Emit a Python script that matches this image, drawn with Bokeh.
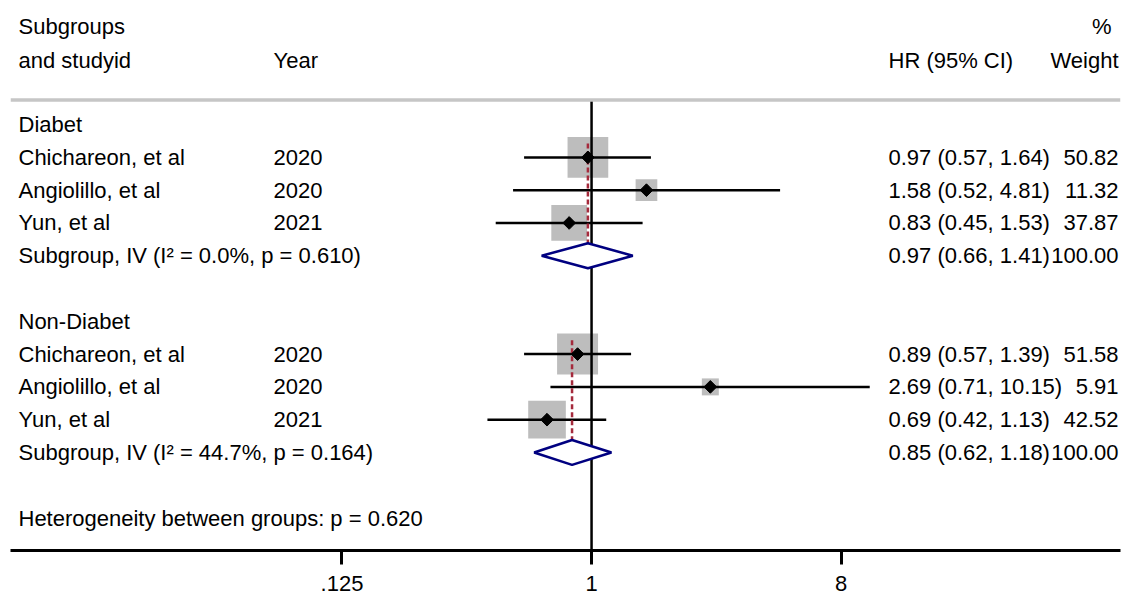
import numpy as np
from bokeh.plotting import figure
from bokeh.models import Range1d, LabelSet, ColumnDataSource, FixedTicker, Span
from bokeh.core.properties import value
from bokeh.embed import file_html
from bokeh.resources import INLINE

# ---------------- data ----------------
groups = ["Diabet", "Non-Diabet"]
studies = ["Chichareon, et al", "Angiolillo, et al", "Yun, et al"]
years = ["2020", "2020", "2021"]
hr_diab = [0.97, 1.58, 0.83]
lo_diab = [0.57, 0.52, 0.45]
hi_diab = [1.64, 4.81, 1.53]
w_diab = [50.82, 11.32, 37.87]
hr_non = [0.89, 2.69, 0.69]
lo_non = [0.57, 0.71, 0.42]
hi_non = [1.39, 10.15, 1.13]
w_non = [51.58, 5.91, 42.52]
pooled_hr = [0.97, 0.85]
pooled_lo = [0.66, 0.62]
pooled_hi = [1.41, 1.18]
pooled_w = [100.00, 100.00]
pooled_label = ["Subgroup, IV (I\u00b2 = 0.0%, p = 0.610)",
                "Subgroup, IV (I\u00b2 = 44.7%, p = 0.164)"]
het_label = "Heterogeneity between groups: p = 0.620"
header1 = ["Subgroups", "%"]
header2 = ["and studyid", "Year", "HR (95% CI)", "Weight"]
tick_values = [0.125, 1, 8]
tick_labels = [".125", "1", "8"]

FONT = "Liberation Sans"
FS = "22px"

# ---------------- row layout ----------------
study_sets = [(hr_diab, lo_diab, hi_diab, w_diab), (hr_non, lo_non, hi_non, w_non)]
s_y, s_hr, s_lo, s_hi, s_w, s_name, s_year = [], [], [], [], [], [], []
g_y, p_y = [], []
for gi, (hr, lo, hi, w) in enumerate(study_sets):
    base = 1 + gi * 6
    g_y.append(base)
    for k in range(len(hr)):
        s_y.append(base + 1 + k)
        s_hr.append(hr[k]); s_lo.append(lo[k]); s_hi.append(hi[k]); s_w.append(w[k])
        s_name.append(studies[k]); s_year.append(years[k])
    p_y.append(base + 1 + len(hr))
het_y = p_y[-1] + 2

y_bottom, y_top = 13.99, -2.48
line_y = 0.25

p = figure(width=1122, height=599, x_axis_type="log",
           x_range=Range1d(0.0079, 82.0), y_range=Range1d(y_bottom, y_top),
           output_backend="svg", toolbar_location=None,
           min_border_left=10, min_border_right=2, min_border_top=10, min_border_bottom=49)
p.yaxis.visible = False
p.xgrid.visible = False
p.ygrid.visible = False
p.outline_line_color = None
p.background_fill_color = "white"
p.border_fill_color = "white"

# header separator
p.add_layout(Span(location=line_y, dimension="width", line_color="#c6c6c6", line_width=3.5))

# weight squares
sizes = [5.05 * np.sqrt(w) + 4.7 for w in s_w]
p.scatter(x=s_hr, y=s_y, marker="square", size=sizes, fill_color="#bdbdbd",
          line_color=None)

# null line
p.segment(x0=[1], y0=[line_y], x1=[1], y1=[y_bottom], line_color="black", line_width=2.5)

# CI lines
p.segment(x0=s_lo, y0=s_y, x1=s_hi, y1=s_y, line_color="black", line_width=2.5)

# pooled dashed lines
dash_top = [g + 1 - 0.42 for g in g_y]
dash_bot = [y + 0.4 for y in p_y]
p.segment(x0=pooled_hr, y0=dash_top, x1=pooled_hr, y1=dash_bot,
          line_color="#a52a3c", line_width=2.5, line_dash="5 3")

# point estimates
p.scatter(x=s_hr, y=s_y, marker="square", angle=np.pi / 4, size=9,
          fill_color="black", line_color="black")

# pooled diamonds
h = 0.38
xs = [[lo, hr, hi, hr] for lo, hr, hi in zip(pooled_lo, pooled_hr, pooled_hi)]
ys = [[y, y - h, y, y + h] for y in p_y]
p.patches(xs=xs, ys=ys, fill_color="white", line_color="#000080", line_width=2.5)

# ---------------- texts ----------------
X_LEFT, X_YEAR, X_HR, X_W, X_PCT = 8, 263, 878, 1108, 1101

left_text = [header1[0], header2[0]] + groups + s_name + pooled_label + [het_label]
left_y = [-2.0, -0.95] + g_y + s_y + p_y + [het_y]
year_text = [header2[1]] + s_year
year_y = [-0.95] + s_y
hr_text = [header2[2]] + [f"{a:.2f} ({b:.2f}, {c:.2f})" for a, b, c in zip(s_hr, s_lo, s_hi)] + \
          [f"{a:.2f} ({b:.2f}, {c:.2f})" for a, b, c in zip(pooled_hr, pooled_lo, pooled_hi)]
hr_y = [-0.95] + s_y + p_y
w_text = [header2[3]] + [f"{w:.2f}" for w in s_w] + [f"{w:.2f}" for w in pooled_w]
w_y = [-0.95] + s_y + p_y


def add_labels(texts, ys_, x, align):
    src = ColumnDataSource(dict(x=[x] * len(texts), y=ys_, text=texts))
    p.add_layout(LabelSet(x="x", y="y", text="text", source=src, x_units="screen",
                          y_units="data", text_font=value(FONT), text_font_size=value(FS),
                          text_color="black", text_baseline="middle", text_align=align))


add_labels(left_text, left_y, X_LEFT, "left")
add_labels(year_text, year_y, X_YEAR, "left")
add_labels(hr_text, hr_y, X_HR, "left")
add_labels(w_text, w_y, X_W, "right")
add_labels([header1[1]], [-2.0], X_PCT, "right")

# ---------------- axis ----------------
ax = p.xaxis[0]
ax.ticker = FixedTicker(ticks=tick_values)
ax.major_label_overrides = {v: l for v, l in zip(tick_values, tick_labels)}
ax.minor_tick_line_color = None
ax.major_tick_in = 0
ax.major_tick_out = 14
ax.major_tick_line_width = 3
ax.axis_line_width = 3
ax.axis_line_color = "black"
ax.major_tick_line_color = "black"
ax.major_label_standoff = 11
ax.major_label_text_font = FONT
ax.major_label_text_font_size = FS
ax.major_label_text_color = "black"

open("out.html", "w").write(file_html(p, INLINE))
